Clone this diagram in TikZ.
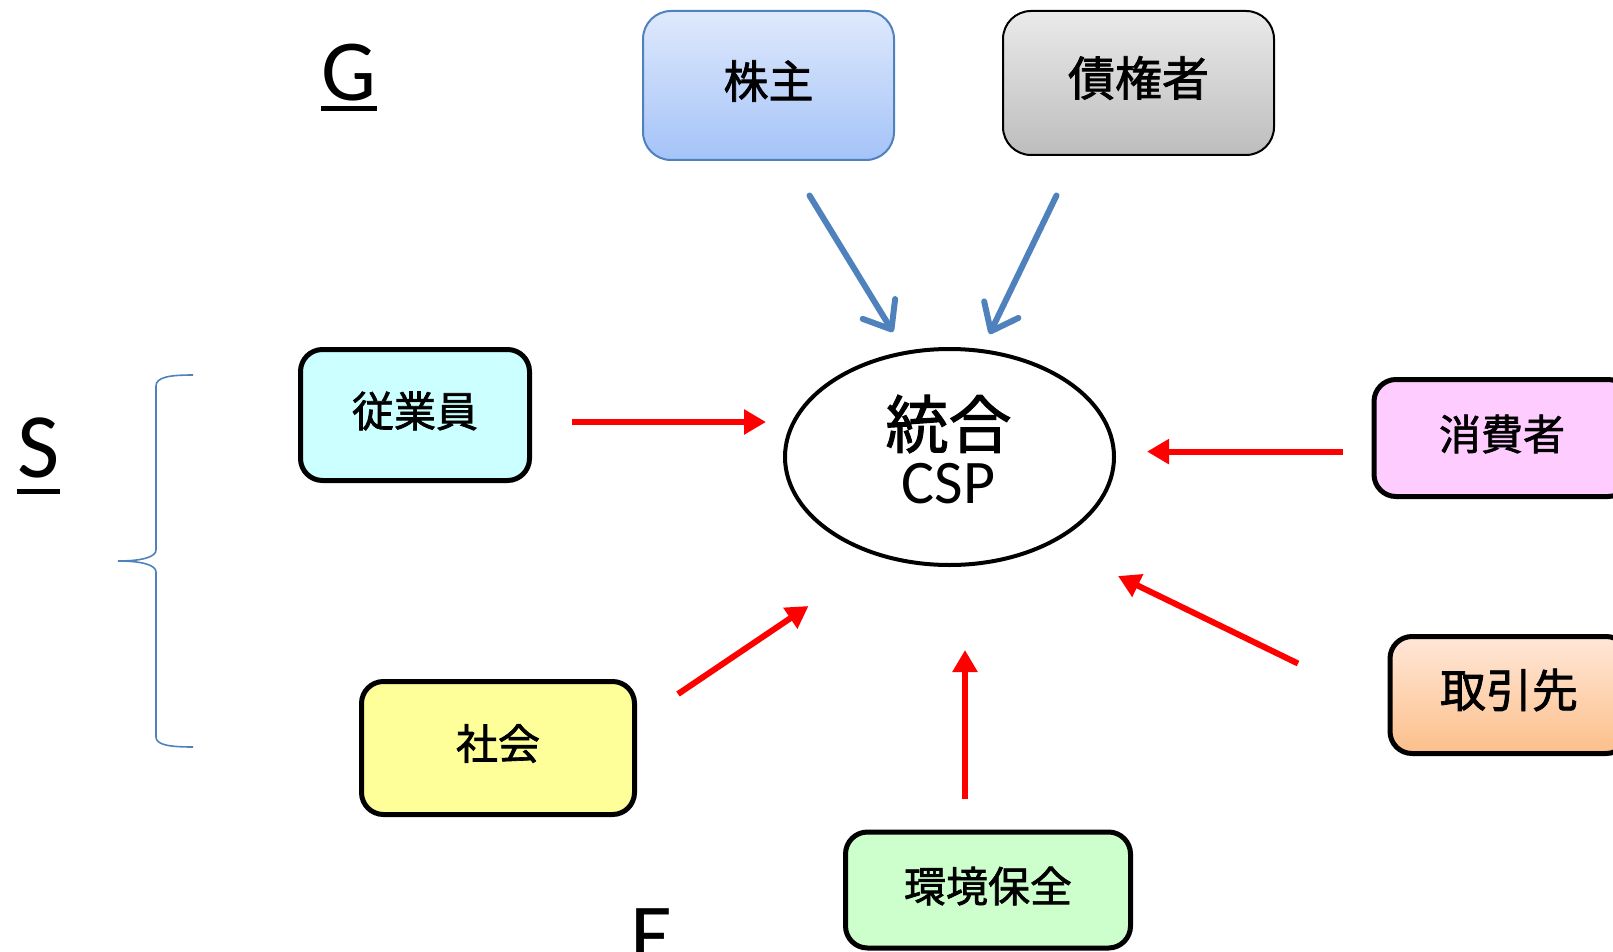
\documentclass[tikz,border=0pt]{standalone}
\usepackage{fontspec}
\setmainfont{Carlito}
\newfontfamily\jp{Noto Sans CJK JP}[FakeBold=1.6]
\usetikzlibrary{arrows.meta,shapes.geometric}
\definecolor{bline}{HTML}{4F81BD}
\definecolor{kbtop}{HTML}{DFE9FC}
\definecolor{kbbot}{HTML}{A4C3F8}
\definecolor{grtop}{HTML}{EAEAEA}
\definecolor{grbot}{HTML}{BDBDBD}
\definecolor{cyanf}{HTML}{CCFFFF}
\definecolor{pinkf}{HTML}{FFCCFF}
\definecolor{yelf}{HTML}{FFFF99}
\definecolor{grnf}{HTML}{CCFFCC}
\definecolor{ortop}{HTML}{FFE7D8}
\definecolor{orbot}{HTML}{FCBF8A}
\definecolor{redc}{HTML}{FF0000}
\begin{document}
\begin{tikzpicture}[x=1pt,y=-1pt,
  thickbox/.style={draw=black, line width=5pt, rounded corners=22pt, inner sep=0pt},
  thinbox/.style={line width=2pt, rounded corners=28pt, inner sep=0pt},
  jtext/.style={inner sep=0pt, font=\jp\fontsize{42}{46}\selectfont},
  letter/.style={inner sep=0pt, anchor=base, font=\fontsize{87}{90}\selectfont},
  redarrow/.style={draw=redc, line width=6pt, -{Triangle[length=22pt,width=24pt]}},
  bluearrow/.style={draw=bline, line width=6pt, line cap=round, -{Straight Barb[length=24pt,width=38pt,round]}},
  bracestyle/.style={draw=bline, line width=1.6pt},
  uline/.style={line width=5pt}
]
\useasboundingbox (0,0) rectangle (1613,952);
\clip (0,0) rectangle (1613,952);

% letters
\node[letter] (G) at (349,101) {G};
\draw[uline] ([yshift=-8pt]G.base west) -- ([yshift=-8pt]G.base east);
\node[letter, font=\fontsize{92}{96}\selectfont] (S) at (38.5,477) {S};
\draw[uline] ([yshift=-14pt]S.base west) -- ([yshift=-14pt]S.base east);
\node[letter] (E) at (652,964) {E};

% top boxes
\node[thinbox, draw=bline, top color=kbtop, bottom color=kbbot,
      minimum width=251pt, minimum height=149pt] (kab) at (768.5,85.5) {};
\node[jtext, font=\jp\fontsize{45}{48}\selectfont] (kabt) at (768.5,81) {株主};
\node[thinbox, draw=black, top color=grtop, bottom color=grbot,
      minimum width=271pt, minimum height=144pt] (sai) at (1138.5,83) {};
\node[jtext, font=\jp\fontsize{47}{50}\selectfont] (sait) at (1138.5,78) {債権者};

% other boxes
\node[thickbox, fill=cyanf, minimum width=229pt, minimum height=131pt] (emp) at (415,415) {};
\node[jtext] (empt) at (415,411) {従業員};
\node[thickbox, fill=pinkf, minimum width=256pt, minimum height=117pt] (con) at (1502,438) {};
\node[jtext] (cont) at (1502,434) {消費者};
\node[thickbox, top color=ortop, bottom color=orbot, minimum width=238pt, minimum height=117pt] (tor) at (1509,695) {};
\node[jtext, font=\jp\fontsize{46}{50}\selectfont] (tort) at (1509,690) {取引先};
\node[thickbox, fill=yelf, minimum width=273pt, minimum height=133pt] (soc) at (498,748) {};
\node[jtext] (soct) at (498,743.5) {社会};
\node[thickbox, fill=grnf, minimum width=285pt, minimum height=116pt] (env) at (988,890) {};
\node[jtext] (envt) at (988,886) {環境保全};

% center ellipse
\node[ellipse, draw=black, line width=4pt, minimum width=329pt, minimum height=216pt, inner sep=0pt] (csp) at (949.5,457) {};
\node[font=\jp\fontsize{63}{66}\selectfont, inner sep=0pt] (t1) at (948.5,424) {統合};
\node[font=\fontsize{62}{66}\selectfont, inner sep=0pt] (t2) at (948.5,483.5) {CSP};

% arrow end points
\coordinate (b1s) at (809.5,195.5);
\coordinate (b1e) at (893,332);
\coordinate (b2s) at (1056.5,195.5);
\coordinate (b2e) at (989.5,334);
\coordinate (r1s) at (572,422);
\coordinate (r1e) at (766,422);
\coordinate (r2s) at (1342.5,451.6);
\coordinate (r2e) at (1147,451.6);
\coordinate (r3s) at (1298,663.5);
\coordinate (r3e) at (1118,576);
\coordinate (r4s) at (678,694);
\coordinate (r4e) at (808.5,606);
\coordinate (r5s) at (965,799);
\coordinate (r5e) at (965,650);

\draw[bluearrow] (b1s) -- (b1e);
\draw[bluearrow] (b2s) -- (b2e);
\draw[redarrow] (r1s) -- (r1e);
\draw[redarrow] (r2s) -- (r2e);
\draw[redarrow] (r3s) -- (r3e);
\draw[redarrow] (r4s) -- (r4e);
\draw[redarrow] (r5s) -- (r5e);

% brace
\coordinate (brtop) at (193,375);
\coordinate (brtip) at (118,561);
\coordinate (brbot) at (193,747);
\draw[bracestyle] (brtop) .. controls (170,375) and (156,377) .. (156,386)
  -- (156,550) .. controls (156,557) and (142,561) .. (brtip)
  .. controls (142,561) and (156,565) .. (156,572)
  -- (156,737) .. controls (156,745) and (170,747) .. (brbot);
\end{tikzpicture}
\end{document}
